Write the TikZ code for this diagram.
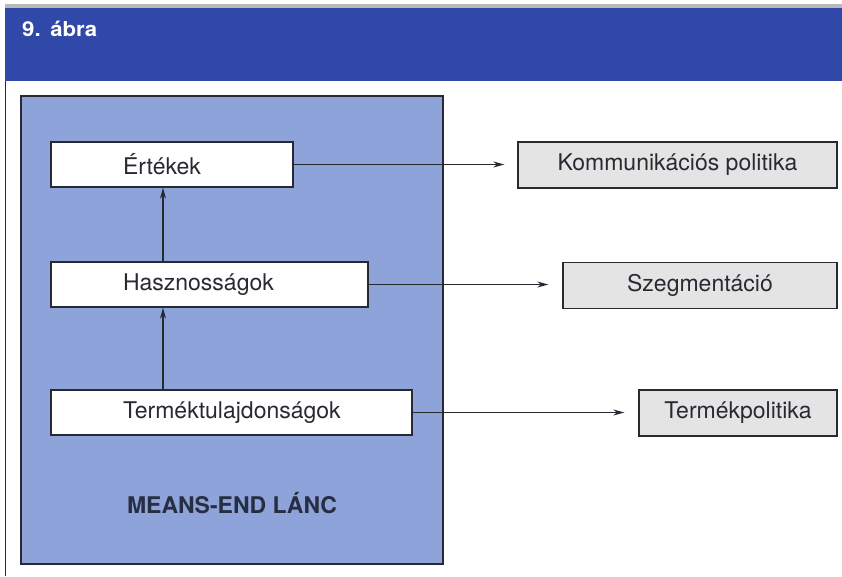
\documentclass[tikz,border=0pt]{standalone}
\usepackage{fontspec}
\setmainfont{TeX Gyre Heros}
\usetikzlibrary{arrows.meta}
\definecolor{headblue}{RGB}{48,72,168}
\definecolor{chainblue}{RGB}{142,163,218}
\definecolor{boxgray}{RGB}{228,228,228}
\definecolor{inkdark}{RGB}{40,42,50}
\definecolor{chaintext}{RGB}{40,46,66}
\tikzset{
  frameline/.style={draw=inkdark, line width=1.4pt},
  chainbox/.style={frameline, fill=white, inner sep=0pt, minimum height=45pt,
    align=left, font=\fontsize{23}{27}\selectfont, text=inkdark},
  policybox/.style={frameline, fill=boxgray, inner sep=0pt, minimum height=46pt,
    font=\fontsize{23}{27}\selectfont, text=inkdark},
  arr/.style={draw=inkdark, line width=1.2pt, -{Stealth[length=11pt,width=6pt]}},
}
\begin{document}
\begin{tikzpicture}[x=1pt, y=-1pt]
\useasboundingbox (0,0) rectangle (842,576);
\fill[white] (0,0) rectangle (842,576);

% title band
\fill[gray!55] (5,4) rectangle (842,7.5);
\fill[headblue] (5,7.5) rectangle (842,81);
\node[anchor=base west, inner sep=0pt, text=white, font=\bfseries\fontsize{20.5}{24}\selectfont]
  (title) at (22,36) {\scalebox{1.08}[1]{9.\hspace{9pt}ábra}};
\draw[draw=inkdark, line width=1.3pt] (5.5,81) -- (5.5,576);

% means-end chain
\node[frameline, fill=chainblue, minimum width=422pt, minimum height=468pt] (chain) at (232,330) {};
\node[chainbox, text width=242pt] (ert) at (172,164.5) {\hspace*{72pt}Értékek};
\node[chainbox, text width=317pt] (has) at (209.5,284.5) {\hspace*{72pt}Hasznosságok};
\node[chainbox, text width=361pt] (ter) at (231.5,412.5) {\hspace*{72pt}Terméktulajdonságok};
\node[text=chaintext, font=\bfseries\fontsize{23}{27}\selectfont] (label) at (232,503) {MEANS-END LÁNC};

\coordinate (ax) at (163,0);
\draw[arr] (ax |- ter.north) -- (ax |- has.south);
\draw[arr] (ax |- has.north) -- (ax |- ert.south);

% marketing decisions
\node[policybox, minimum width=319pt] (kom) at (677.5,165) {Kommunikációs politika};
\node[policybox, minimum width=274pt] (sze) at (700,285.5) {Szegmentáció};
\node[policybox, minimum width=198pt] (tpo) at (738,413) {Termékpolitika};

\draw[arr, shorten >=13pt] (ert.east) -- (ert.east -| kom.west);
\draw[arr, shorten >=14pt] (has.east) -- (has.east -| sze.west);
\draw[arr, shorten >=14pt] (ter.east) -- (ter.east -| tpo.west);
\end{tikzpicture}
\end{document}
